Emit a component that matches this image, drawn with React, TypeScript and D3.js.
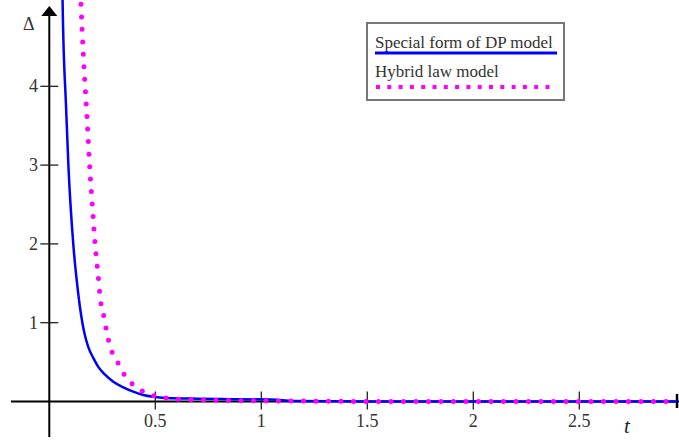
import React from 'react';
import * as d3 from 'd3';

// values
const blueT = [0.062, 0.063, 0.079, 0.09, 0.113, 0.133, 0.156, 0.168, 0.184, 0.208, 0.231, 0.263, 0.302, 0.349, 0.396, 0.443, 0.491, 0.55, 0.7, 0.85, 1.05, 1.15, 1.5, 2.0, 2.5, 2.96];
const blueD = [5.2, 5.03, 3.74, 3.0, 2.0, 1.45, 1.0, 0.84, 0.69, 0.55, 0.44, 0.34, 0.25, 0.18, 0.125, 0.083, 0.06, 0.045, 0.035, 0.03, 0.025, 0.005, 0, 0, 0, 0];

const pinkT = [0.147, 0.15, 0.168, 0.176, 0.189, 0.205, 0.216, 0.231, 0.242, 0.255, 0.266, 0.278, 0.297, 0.326, 0.352, 0.389, 0.431, 0.475, 0.536, 0.601, 0.8, 1.2, 1.6, 2.0, 2.5, 2.96];
const pinkD = [5.2, 5.0, 4.04, 3.7, 3.05, 2.41, 2.0, 1.58, 1.27, 1.11, 0.95, 0.79, 0.62, 0.48, 0.35, 0.23, 0.146, 0.09, 0.05, 0.03, 0.015, 0.005, 0, 0, 0, 0];

const xTicks = [0.5, 1, 1.5, 2, 2.5];
const yTicks = [1, 2, 3, 4];
const legendLabels = ['Special form of DP model', 'Hybrid law model'];

const W = 679;
const H = 440;
const serif = '"Liberation Serif", "DejaVu Serif", serif';

export default function App() {
  const x = d3.scaleLinear().domain([0, 3]).range([49.3, 49.3 + 3 * 212]);
  const y = d3.scaleLinear().domain([0, 5]).range([401.5, 401.5 - 5 * 78.8]);

  const line = d3.line<[number, number]>()
    .x(d => x(d[0]))
    .y(d => y(d[1]))
    .curve(d3.curveMonotoneX);

  const bluePath = line(blueT.map((t, i) => [t, blueD[i]] as [number, number])) || '';
  const pinkPath = line(pinkT.map((t, i) => [t, pinkD[i]] as [number, number])) || '';

  const x0 = x(0);
  const y0 = y(0);

  return (
    <svg width={W} height={H} style={{ position: 'absolute', left: 0, top: 0, background: '#fff' }}>
      {/* axes */}
      <line x1={x0} x2={x0} y1={437} y2={14} stroke="#000" strokeWidth={2} />
      <path d={`M${x0},6 L${x0 - 8},16 L${x0 + 8},16 Z`} fill="#000" />
      <line x1={11} x2={680} y1={y0} y2={y0} stroke="#000" strokeWidth={2} />
      <line x1={677} x2={677} y1={394} y2={408} stroke="#000" strokeWidth={2.5} />

      {yTicks.map(v => (
        <g key={'y' + v}>
          <line x1={x0 - 9} x2={x0 + 9} y1={y(v)} y2={y(v)} stroke="#222" strokeWidth={1.3} />
          <text x={38} y={y(v)} dy="0.34em" textAnchor="end" fontFamily={serif} fontSize={18} fill="#333">{v}</text>
        </g>
      ))}
      {xTicks.map(v => (
        <g key={'x' + v}>
          <line x1={x(v)} x2={x(v)} y1={y0 - 10} y2={y0 + 8} stroke="#222" strokeWidth={1.3} />
          <text x={x(v)} y={427} textAnchor="middle" fontFamily={serif} fontSize={18} fill="#333">{v}</text>
        </g>
      ))}

      <text x={23} y={30} fontFamily={serif} fontSize={18} fill="#333">Δ</text>
      <text x={624} y={433} fontFamily={serif} fontStyle="italic" fontSize={21} fill="#222">t</text>

      {/* curves */}
      <path d={bluePath} fill="none" stroke="#0000ff" strokeWidth={2.5} />
      <path d={pinkPath} fill="none" stroke="#ff00ff" strokeWidth={5} strokeDasharray="0 12.5" strokeLinecap="round" />

      {/* legend */}
      <rect x={367} y={23} width={197} height={77} fill="#fff" stroke="#777" strokeWidth={2} />
      <text x={375} y={48} fontFamily={serif} fontSize={17} fill="#333">{legendLabels[0]}</text>
      <line x1={375} x2={557} y1={53} y2={53} stroke="#0000ff" strokeWidth={3} />
      <text x={375} y={77} fontFamily={serif} fontSize={17} fill="#333">{legendLabels[1]}</text>
      <line x1={376} x2={552} y1={87} y2={87} stroke="#ff00ff" strokeWidth={4} strokeDasharray="4 7.3" />
    </svg>
  );
}
